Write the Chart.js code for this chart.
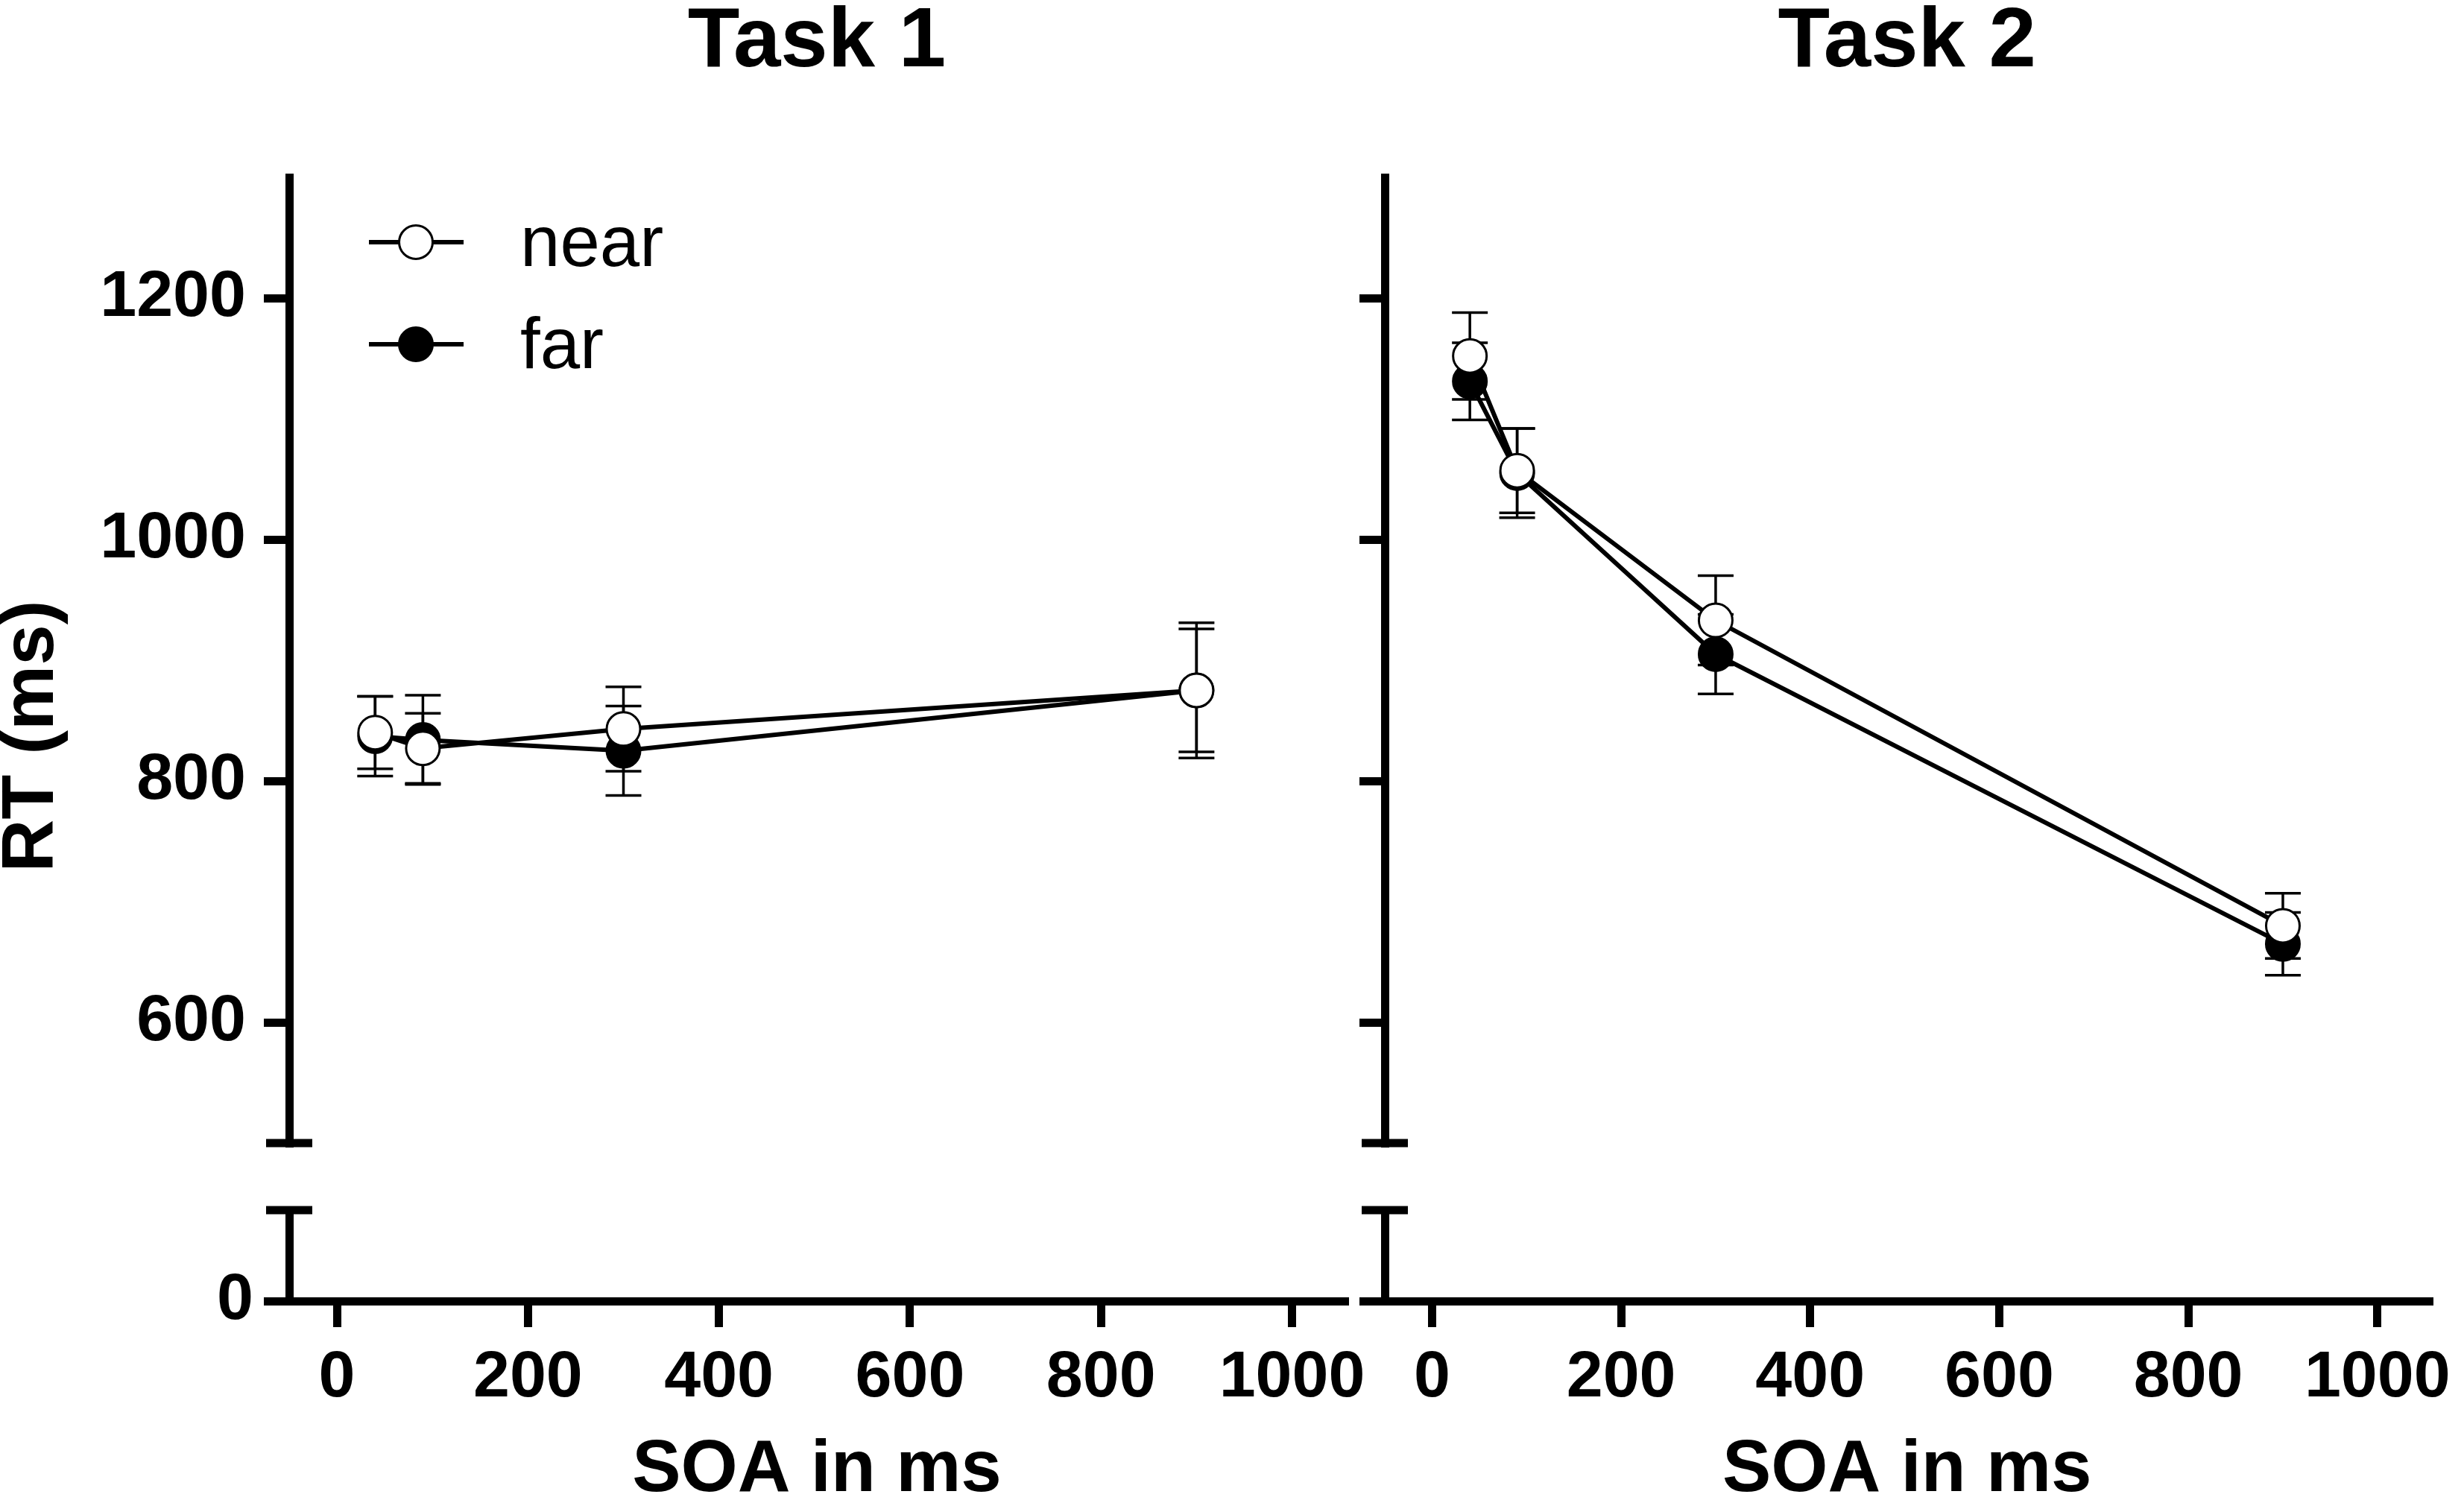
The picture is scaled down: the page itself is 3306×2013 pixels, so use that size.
<!DOCTYPE html>
<html>
<head>
<meta charset="utf-8">
<script src="https://cdn.jsdelivr.net/npm/chart.js@4.4.1/dist/chart.umd.min.js"></script>
<style>
  html, body { margin: 0; padding: 0; background: #fff; }
  #wrap { position: relative; width: 3306px; height: 2013px; }
  canvas { position: absolute; left: 0; top: 0; }
</style>
</head>
<body>
<div id="wrap">
  <canvas id="task1" width="3306" height="2013"></canvas>
  <canvas id="task2" width="3306" height="2013"></canvas>
</div>
<script>
const soa = [40, 90, 300, 900];
const task1Near = [840, 827, 843, 875];
const task1NearErr = [30, 29, 35, 56];
const task1Far = [837, 834, 825, 875];
const task1FarErr = [33, 37, 37, 51];
const task2Near = [1152, 1057, 933, 680];
const task2NearErr = [36, 35, 37, 27];
const task2Far = [1131, 1055, 905, 665];
const task2FarErr = [32, 37, 33, 26];
const xTicks = [0, 200, 400, 600, 800, 1000];
const yTicks = [600, 800, 1000, 1200];
const yLowTicks = [0];
const seriesNames = ['near', 'far'];

Chart.defaults.font.family = "'Liberation Sans', Arial, sans-serif";
Chart.defaults.color = '#000';

// error bars go under the lines and circles
const errorBars = {
  id: 'errorBars',
  beforeDatasetsDraw(chart) {
    const ctx = chart.ctx;
    const xs = chart.scales.x, ys = chart.scales.y;
    ctx.save();
    ctx.strokeStyle = '#000';
    ctx.lineWidth = 3.5;
    chart.data.datasets.forEach(ds => {
      ds.data.forEach((p, i) => {
        const px = xs.getPixelForValue(p.x);
        const hi = ys.getPixelForValue(p.y + ds.errors[i]);
        const lo = ys.getPixelForValue(p.y - ds.errors[i]);
        ctx.beginPath();
        ctx.moveTo(px, hi); ctx.lineTo(px, lo);
        ctx.moveTo(px - 24, hi); ctx.lineTo(px + 24, hi);
        ctx.moveTo(px - 24, lo); ctx.lineTo(px + 24, lo);
        ctx.stroke();
      });
    });
    ctx.restore();
  }
};

// axis break marks, legend and the y title
const decor = {
  id: 'decor',
  afterDraw(chart, args, opts) {
    const ctx = chart.ctx;
    const top = chart.scales.y, low = chart.scales.yLow;
    const area = chart.chartArea;
    const ax = top.right;
    ctx.save();
    ctx.strokeStyle = '#000';
    ctx.lineWidth = 11;
    [top.bottom, low.top].forEach(y => {
      ctx.beginPath();
      ctx.moveTo(ax - 31, y);
      ctx.lineTo(ax + 31, y);
      ctx.stroke();
    });

    if (opts.legend) {
      const rows = [area.top + 87, area.top + 224];
      chart.data.datasets.forEach((ds, i) => {
        const y = rows[i];
        const x0 = area.left + 107, x1 = area.left + 234, cx = area.left + 170;
        ctx.lineWidth = 6;
        ctx.beginPath();
        ctx.moveTo(x0, y); ctx.lineTo(x1, y);
        ctx.stroke();
        ctx.beginPath();
        ctx.arc(cx, y, 22.5, 0, Math.PI * 2);
        ctx.fillStyle = ds.pointBackgroundColor;
        ctx.fill();
        ctx.lineWidth = 3;
        ctx.stroke();
        ctx.fillStyle = '#000';
        ctx.font = "96px 'Liberation Sans', Arial, sans-serif";
        ctx.textAlign = 'left';
        ctx.textBaseline = 'alphabetic';
        ctx.fillText(ds.label, area.left + 310, y + 32);
      });
    }

    if (opts.yTitle) {
      ctx.translate(44, (area.top + area.bottom) / 2 - 4);
      ctx.rotate(-Math.PI / 2);
      ctx.fillStyle = '#000';
      ctx.font = "bold 98px 'Liberation Sans', Arial, sans-serif";
      ctx.textAlign = 'center';
      ctx.textBaseline = 'middle';
      ctx.fillText(opts.yTitle, 0, 0);
    }
    ctx.restore();
  }
};

function yAxis(extra) {
  return Object.assign({
    type: 'linear',
    position: 'left',
    stack: 'rt',
    border: { display: true, color: '#000', width: 11 },
    grid: { drawOnChartArea: false, color: '#000', lineWidth: 11, tickLength: 34 },
    ticks: { font: { size: 88, weight: 'bold' }, color: '#000', callback: v => String(v) }
  }, extra);
}

function panel(id, title, near, nearErr, far, farErr, padLeft, padRight, axisWidth, showLabels) {
  const ticksFont = { size: 88, weight: 'bold' };
  return new Chart(document.getElementById(id), {
    type: 'line',
    data: {
      datasets: [
        {
          label: seriesNames[0],
          data: soa.map((x, i) => ({ x: x, y: near[i] })),
          errors: nearErr,
          borderColor: '#000',
          borderWidth: 6,
          pointRadius: 22.5,
          pointHoverRadius: 22.5,
          pointBorderWidth: 3,
          pointBackgroundColor: '#fff',
          pointBorderColor: '#000',
          tension: 0
        },
        {
          label: seriesNames[1],
          data: soa.map((x, i) => ({ x: x, y: far[i] })),
          errors: farErr,
          borderColor: '#000',
          borderWidth: 6,
          pointRadius: 22.5,
          pointHoverRadius: 22.5,
          pointBorderWidth: 3,
          pointBackgroundColor: '#000',
          pointBorderColor: '#000',
          tension: 0
        }
      ]
    },
    options: {
      responsive: false,
      animation: false,
      devicePixelRatio: 1,
      layout: { padding: { left: padLeft, right: padRight, top: 0, bottom: 0 } },
      plugins: {
        legend: { display: false },
        tooltip: { enabled: false },
        title: {
          display: true,
          text: title,
          fullSize: false,
          color: '#000',
          font: { size: 114, weight: 'bold', lineHeight: 0.9 },
          padding: { top: 6, bottom: 129.4 }
        },
        decor: { legend: showLabels, yTitle: showLabels ? 'RT (ms)' : '' }
      },
      scales: {
        x: {
          type: 'linear',
          min: -50,
          max: 1055,
          afterBuildTicks: s => { s.ticks = xTicks.map(v => ({ value: v })); },
          afterFit: s => { s.height = 267; },
          border: { color: '#000', width: 11 },
          grid: { drawOnChartArea: false, color: '#000', lineWidth: 11, tickLength: 35 },
          ticks: { font: ticksFont, color: '#000', padding: 16, maxRotation: 0, autoSkip: false, callback: v => String(v) },
          title: { display: true, text: 'SOA in ms', color: '#000', font: { size: 98, weight: 'bold', lineHeight: 0.8 }, padding: 0 }
        },
        y: yAxis({
          min: 500, max: 1300, stackWeight: 1296, weight: 3,
          afterBuildTicks: s => { s.ticks = yTicks.map(v => ({ value: v })); },
          afterFit: s => { s.width = axisWidth; },
          ticks: { display: showLabels, font: ticksFont, color: '#000', padding: 24, callback: v => String(v) }
        }),
        yGap: yAxis({
          min: 0, max: 1, stackWeight: 90, weight: 2,
          afterBuildTicks: s => { s.ticks = []; },
          afterFit: s => { s.width = axisWidth; },
          border: { display: false },
          grid: { display: false },
          ticks: { display: false }
        }),
        yLow: yAxis({
          min: 0, max: 75, stackWeight: 122, weight: 1,
          afterBuildTicks: s => { s.ticks = yLowTicks.map(v => ({ value: v })); },
          afterFit: s => { s.width = axisWidth; },
          ticks: { display: showLabels, font: ticksFont, color: '#000', padding: 14, callback: v => String(v) }
        })
      }
    },
    plugins: [errorBars, decor]
  });
}

panel('task1', 'Task 1', task1Near, task1NearErr, task1Far, task1FarErr, 0, 1502, 388, true);
panel('task2', 'Task 2', task2Near, task2NearErr, task2Far, task2FarErr, 1780, 40, 78, false);
</script>
</body>
</html>
